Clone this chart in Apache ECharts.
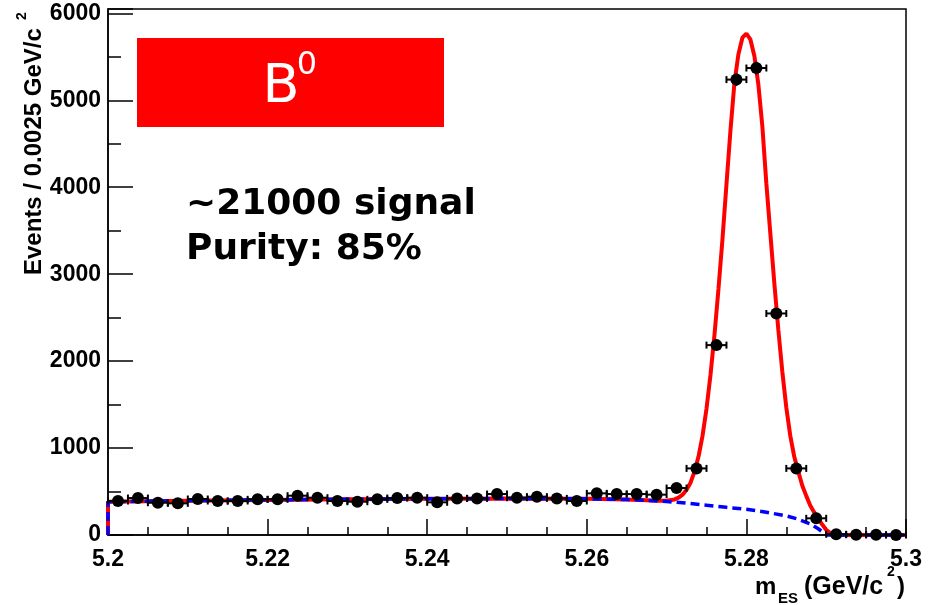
<!DOCTYPE html>
<html lang="en">
<head>
<meta charset="UTF-8">
<title>B0 mES</title>
<script src="https://cdn.jsdelivr.net/npm/echarts@6/dist/echarts.min.js"></script>
<style>
  html, body { margin: 0; padding: 0; background: #fff; }
  #main { width: 936px; height: 605px; }
</style>
</head>
<body>
<div id="main"></div>
<script>
// bin centres (GeV/c^2), bin width 0.0025
var binCenters = [5.20125, 5.20375, 5.20625, 5.20875, 5.21125, 5.21375, 5.21625, 5.21875,
  5.22125, 5.22375, 5.22625, 5.22875, 5.23125, 5.23375, 5.23625, 5.23875,
  5.24125, 5.24375, 5.24625, 5.24875, 5.25125, 5.25375, 5.25625, 5.25875,
  5.26125, 5.26375, 5.26625, 5.26875, 5.27125, 5.27375, 5.27625, 5.27875,
  5.28125, 5.28375, 5.28625, 5.28875, 5.29125, 5.29375, 5.29625, 5.29875];
var counts = [391, 425, 371, 364, 414, 391, 391, 410,
  410, 452, 429, 391, 383, 410, 425, 429,
  376, 421, 421, 471, 429, 441, 421, 391,
  479, 471, 471, 464, 540, 766, 2184, 5238,
  5371, 2548, 766, 192, 8, 3, 2, 1];
var halfBin = 0.00125;

// total fit (red)
var fitX = [5.2, 5.2, 5.21, 5.22, 5.23, 5.24, 5.25, 5.26, 5.265, 5.2675, 5.269, 5.27, 5.271,
  5.2715, 5.272, 5.2725, 5.273, 5.2735, 5.274, 5.2745, 5.275, 5.2755, 5.276, 5.2765, 5.277,
  5.2775, 5.278, 5.2785, 5.279, 5.2795, 5.28, 5.2805, 5.281, 5.2815, 5.282, 5.2825, 5.283,
  5.2835, 5.284, 5.2845, 5.285, 5.2855, 5.286, 5.2865, 5.287, 5.2875, 5.288, 5.2885, 5.289,
  5.2895, 5.29, 5.2905, 5.291, 5.3];
var fitY = [0, 383, 395, 404, 411, 416, 419, 416, 408, 399, 393, 394, 409,
  430, 464, 520, 602, 730, 902, 1140, 1452, 1840, 2302, 2830, 3401,
  4030, 4650, 5200, 5530, 5720, 5766, 5700, 5510, 5180, 4700, 4043, 3468,
  2897, 2362, 1881, 1467, 1140, 900, 730, 570, 450, 340, 260, 190,
  120, 60, 22, 0, 0];

// background (blue dashed)
var bkgX = [5.2, 5.2, 5.21, 5.22, 5.23, 5.24, 5.25, 5.26, 5.265, 5.2675, 5.27, 5.2725, 5.275,
  5.2775, 5.28, 5.2825, 5.285, 5.2865, 5.288, 5.289, 5.2897, 5.2901, 5.3];
var bkgY = [0, 383, 395, 404, 411, 416, 419, 416, 408, 399, 385, 366, 342,
  318, 296, 262, 220, 182, 128, 72, 25, 0, 0];

var yTicks = [0, 1000, 2000, 3000, 4000, 5000, 6000];

function pairs(xs, ys) {
  return xs.map(function (x, i) { return [x, ys[i]]; });
}

var points = pairs(binCenters, counts);

function renderErr(params, api) {
  var x = api.value(0), y = api.value(1);
  var l = api.coord([x - halfBin, y]);
  var r = api.coord([x + halfBin, y]);
  var e = Math.sqrt(y);
  var t = api.coord([x, y + e]);
  var b = api.coord([x, y - e]);
  var st = { stroke: '#000', lineWidth: 2 };
  return {
    type: 'group',
    children: [
      { type: 'line', shape: { x1: l[0], y1: l[1], x2: r[0], y2: r[1] }, style: st },
      { type: 'line', shape: { x1: l[0], y1: l[1] - 3.5, x2: l[0], y2: l[1] + 3.5 }, style: st },
      { type: 'line', shape: { x1: r[0], y1: r[1] - 3.5, x2: r[0], y2: r[1] + 3.5 }, style: st },
      { type: 'line', shape: { x1: t[0], y1: t[1], x2: b[0], y2: b[1] }, style: st }
    ]
  };
}

var chart = echarts.init(document.getElementById('main'));
var labelFont = { color: '#000', fontSize: 23, fontWeight: 'bold', fontFamily: 'Liberation Sans' };

var option = {
  animation: false,
  grid: { left: 108, right: 30, top: 9, bottom: 70, show: true, borderColor: '#000', borderWidth: 1.5 },
  xAxis: {
    type: 'value', min: 5.2, max: 5.3, interval: 0.02,
    axisLine: { onZero: false, lineStyle: { color: '#000', width: 1.5 } },
    axisTick: { inside: true, length: 16, lineStyle: { color: '#000', width: 1.5 } },
    minorTick: { show: true, splitNumber: 4, length: 8, lineStyle: { color: '#000', width: 1.5 } },
    splitLine: { show: false },
    axisLabel: Object.assign({ margin: 13 }, labelFont)
  },
  yAxis: {
    type: 'value', min: 0, max: 6050, interval: 1000,
    axisLine: { show: true, lineStyle: { color: '#000', width: 1.5 } },
    axisTick: { inside: true, length: 25, lineStyle: { color: '#000', width: 1.5 } },
    minorTick: { show: true, splitNumber: 2, length: 13, lineStyle: { color: '#000', width: 1.5 } },
    splitLine: { show: false },
    axisLabel: Object.assign({
      margin: 7, showMaxLabel: false,
      formatter: function (v) { return yTicks.indexOf(v) >= 0 ? String(v) : ''; }
    }, labelFont)
  },
  graphic: [
    { type: 'rect', shape: { x: 137, y: 38, width: 307, height: 89 }, style: { fill: '#ff0000' } },
    { type: 'text', style: { x: 281, y: 88, text: 'B', font: '54px "DejaVu Sans"', fill: '#fff', textAlign: 'center', textVerticalAlign: 'middle' } },
    { type: 'text', style: { x: 307, y: 66, text: '0', font: '32px "DejaVu Sans"', fill: '#fff', textAlign: 'center', textVerticalAlign: 'middle' } },
    { type: 'text', style: { x: 186, y: 205, text: '~21000 signal', font: 'bold 36px "DejaVu Sans"', fill: '#000', textAlign: 'left', textVerticalAlign: 'middle' } },
    { type: 'text', style: { x: 186, y: 250, text: 'Purity: 85%', font: 'bold 36px "DejaVu Sans"', fill: '#000', textAlign: 'left', textVerticalAlign: 'middle' } },
    // y title, rotated
    { type: 'text', x: 34, y: 275, rotation: Math.PI / 2, style: { x: 0, y: 0, text: 'Events / 0.0025 GeV/c', font: 'bold 24px "Liberation Sans"', fill: '#000', textAlign: 'left', textVerticalAlign: 'middle' } },
    { type: 'text', x: 22, y: 20, rotation: Math.PI / 2, style: { x: 0, y: 0, text: '2', font: 'bold 14px "Liberation Sans"', fill: '#000', textAlign: 'left', textVerticalAlign: 'middle' } },
    // x title
    { type: 'text', style: { x: 755, y: 587, text: 'm', font: 'bold 24px "Liberation Sans"', fill: '#000', textAlign: 'left', textVerticalAlign: 'middle' } },
    { type: 'text', style: { x: 778, y: 599, text: 'ES', font: 'bold 15px "Liberation Sans"', fill: '#000', textAlign: 'left', textVerticalAlign: 'middle' } },
    { type: 'text', style: { x: 804, y: 587, text: '(GeV/c', font: 'bold 25px "Liberation Sans"', fill: '#000', textAlign: 'left', textVerticalAlign: 'middle' } },
    { type: 'text', style: { x: 887, y: 572, text: '2', font: 'bold 14px "Liberation Sans"', fill: '#000', textAlign: 'left', textVerticalAlign: 'middle' } },
    { type: 'text', style: { x: 897, y: 587, text: ')', font: 'bold 24px "Liberation Sans"', fill: '#000', textAlign: 'left', textVerticalAlign: 'middle' } }
  ],
  series: [
    {
      type: 'line', data: pairs(fitX, fitY), showSymbol: false, clip: false, z: 2,
      lineStyle: { color: '#ff0000', width: 4 }
    },
    {
      type: 'line', data: pairs(bkgX, bkgY), showSymbol: false, clip: false, z: 3,
      lineStyle: { color: '#0000ff', width: 3.5, type: [9, 5] }
    },
    { type: 'custom', renderItem: renderErr, data: points, z: 4 },
    {
      type: 'scatter', data: points, symbol: 'circle', symbolSize: 12, clip: false, z: 5,
      itemStyle: { color: '#000', opacity: 1 }
    }
  ]
};
chart.setOption(option);
</script>
</body>
</html>
